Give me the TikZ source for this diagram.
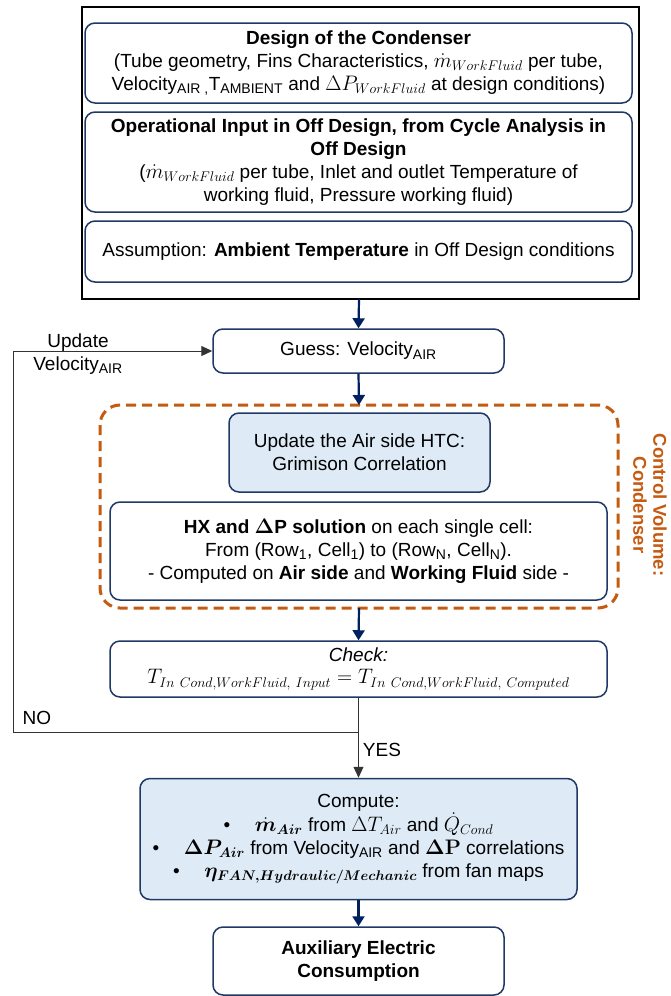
\RequirePackage{fix-cm}
\documentclass[tikz,border=0pt]{standalone}
\usepackage{amsmath}
\usepackage[no-math]{fontspec}
\setmainfont{Liberation Sans}
\DeclareMathSizes{19}{21}{14}{11}
\usetikzlibrary{arrows.meta}
\definecolor{navy}{RGB}{31,56,100}
\definecolor{arrnavy}{RGB}{0,32,96}
\definecolor{lblue}{RGB}{222,235,247}
\definecolor{cvorange}{RGB}{197,90,17}
\tikzset{
  box/.style={draw=navy, line width=1.5pt, rounded corners=10pt, fill=white, align=center, inner sep=0pt},
  bluebox/.style={box, fill=lblue},
  flow/.style={draw=arrnavy, line width=2.2pt, -{Triangle[width=12pt,length=10pt]}},
  loopline/.style={draw=black!80, line width=1pt},
  looparrow/.style={loopline, -{Triangle[width=10pt,length=11pt]}},
  txt/.style={align=center, inner sep=0pt}
}
\begin{document}
\begin{tikzpicture}[x=1pt,y=-1pt,font=\fontsize{19}{23}\selectfont]
\useasboundingbox (0,0) rectangle (670,996);
% outer input frame
\draw[line width=2pt, black] (82,7) rectangle (639,299);
\node[box, minimum width=547pt, minimum height=80pt] (d1) at (358.5,63)
  {\textbf{Design of the Condenser}\\
   (Tube geometry, Fins Characteristics, $\dot{m}_{WorkFluid}$ per tube,\\
   Velocity\textsubscript{AIR ,}T\textsubscript{AMBIENT} and $\Delta P_{WorkFluid}$ at design conditions)};
\node[box, minimum width=547pt, minimum height=100pt] (d2) at (358.5,162)
  {\textbf{Operational Input in Off Design, from Cycle Analysis in}\\
   \textbf{Off Design}\\
   ($\dot{m}_{WorkFluid}$ per tube, Inlet and outlet Temperature of\\
   working fluid, Pressure working fluid)};
\node[box, minimum width=547pt, minimum height=61pt] (d3) at (358.5,251.5)
  {Assumption: \textbf{Ambient Temperature} in Off Design conditions};
\coordinate (inbot) at (359,299);

\node[box, minimum width=291pt, minimum height=44pt] (guess) at (358.5,351)
  {Guess: Velocity\textsubscript{AIR}};

% control volume
\draw[cvorange, line width=3pt, dash pattern=on 10pt off 6pt, rounded corners=20pt]
  (100,405) rectangle (618,608);
\coordinate (cvtop) at (359,405);
\coordinate (cvbot) at (359,608);
\node[txt, rotate=-90, text=cvorange, font=\fontsize{18.5}{20}\selectfont\bfseries] (cvlabel) at (650,505)
  {Control Volume:\\Condenser};

\node[bluebox, minimum width=261pt, minimum height=79pt] (htc) at (359.5,452.5)
  {Update the Air side HTC:\\Grimison Correlation};
\node[box, minimum width=497pt, minimum height=98pt] (hx) at (358.5,551)
  {\textbf{HX and $\boldsymbol{\Delta}$P solution} on each single cell:\\
   From (Row\textsubscript{1}, Cell\textsubscript{1}) to (Row\textsubscript{N}, Cell\textsubscript{N}).\\
   - Computed on \textbf{Air side} and \textbf{Working Fluid} side -};

\node[box, minimum width=497pt, minimum height=56pt] (check) at (358.5,669)
  {\textit{Check:}\\[-1pt]
   $T_{In\ Cond,WorkFluid,\ Input}=T_{In\ Cond,WorkFluid,\ Computed}$};

\node[bluebox, minimum width=437pt, minimum height=121pt] (comp) at (358.5,839)
  {Compute:\\
   \textbullet\hspace{1.3em}$\dot{\boldsymbol{m}}_{\boldsymbol{Air}}$ from $\Delta T_{Air}$ and $\dot{Q}_{Cond}$\\
   \textbullet\hspace{1.3em}$\boldsymbol{\Delta P_{Air}}$ from Velocity\textsubscript{AIR} and $\mathbf{\Delta P}$ correlations\\
   \textbullet\hspace{1.3em}$\boldsymbol{\eta_{FAN,Hydraulic/Mechanic}}$ from fan maps};

\node[box, minimum width=291pt, minimum height=68pt] (aux) at (358.5,961)
  {\textbf{Auxiliary Electric}\\\textbf{Consumption}};

% main flow
\draw[flow] (inbot) -- (guess.north);
\draw[flow] (guess.south) -- (cvtop);
\draw[flow] (cvbot) -- (check.north);
\draw[flow] (comp.south) -- (aux.north);

% decision
\coordinate (junc) at (359,732);
\coordinate (cornerA) at (13,732);
\coordinate (cornerB) at (13,351);
\draw[looparrow] (check.south) -- (comp.north);
\draw[looparrow] (junc) -- (cornerA) -- (cornerB) -- (guess.west);

\node[txt] (upd) at (78,354) {Update\\Velocity\textsubscript{AIR}};
\node[txt] (no) at (37,718) {NO};
\node[txt] (yes) at (382,750) {YES};
\end{tikzpicture}
\end{document}
